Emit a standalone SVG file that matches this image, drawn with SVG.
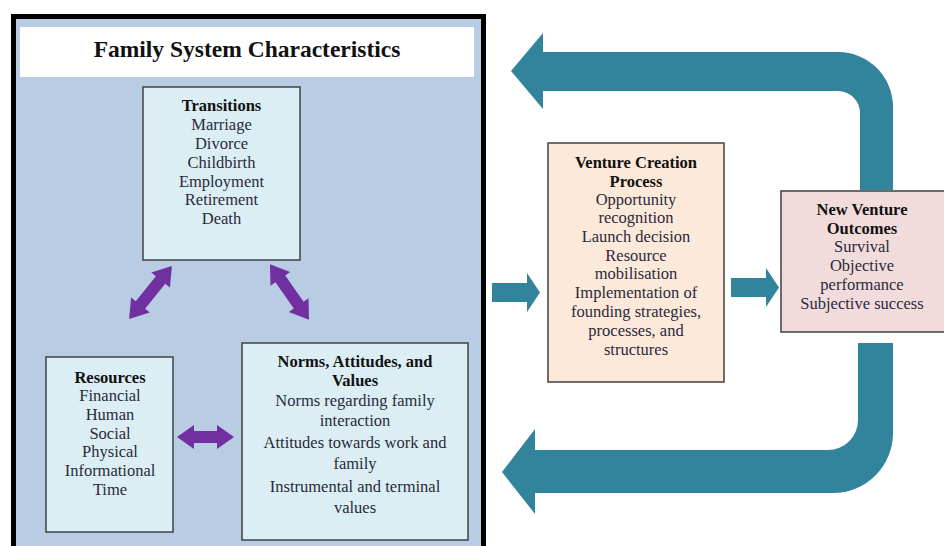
<svg xmlns="http://www.w3.org/2000/svg" width="944" height="546" viewBox="0 0 944 546">
<style>
text{font-family:"Liberation Serif","Times New Roman",serif;font-size:16.5px;fill:#2a2a3c;text-anchor:middle}
.b{font-weight:bold;fill:#111}
.box{stroke:#404040;stroke-width:1.5}
.teal{fill:#31849b}
.purple{fill:#7030a0}
</style>
<rect x="0" y="0" width="944" height="546" fill="#fff"/>
<g id="panel">
<rect x="13.5" y="16.5" width="470" height="540" fill="#b8cce4" stroke="#000" stroke-width="5"/>
<rect x="20" y="27" width="454" height="50" fill="#fff"/>
<text x="247" y="57" class="b" style="font-size:23.5px">Family System Characteristics</text>
</g>
<g id="transitions">
<rect class="box" x="143" y="87" width="157" height="173" fill="#daeef3"/>
<text x="221.5" y="111" class="b">Transitions</text>
<text x="221.5" y="130">Marriage</text>
<text x="221.5" y="149">Divorce</text>
<text x="221.5" y="168">Childbirth</text>
<text x="221.5" y="187">Employment</text>
<text x="221.5" y="205">Retirement</text>
<text x="221.5" y="224">Death</text>
</g>
<g id="resources">
<rect class="box" x="46" y="357" width="127" height="175" fill="#daeef3"/>
<text x="110" y="383" class="b">Resources</text>
<text x="110" y="401">Financial</text>
<text x="110" y="420">Human</text>
<text x="110" y="439">Social</text>
<text x="110" y="457">Physical</text>
<text x="110" y="476">Informational</text>
<text x="110" y="495">Time</text>
</g>
<g id="norms">
<rect class="box" x="242" y="343" width="226" height="197" fill="#daeef3"/>
<text x="355" y="367" class="b">Norms, Attitudes, and</text>
<text x="355" y="386" class="b">Values</text>
<text x="355" y="406">Norms regarding family</text>
<text x="355" y="426">interaction</text>
<text x="355" y="448">Attitudes towards work and</text>
<text x="355" y="469">family</text>
<text x="355" y="492">Instrumental and terminal</text>
<text x="355" y="513">values</text>
</g>
<g id="venture-creation">
<rect class="box" x="548" y="143" width="176" height="239" fill="#fde9d9"/>
<text x="636" y="168" class="b">Venture Creation</text>
<text x="636" y="187" class="b">Process</text>
<text x="636" y="205">Opportunity</text>
<text x="636" y="223">recognition</text>
<text x="636" y="242">Launch decision</text>
<text x="636" y="261">Resource</text>
<text x="636" y="279">mobilisation</text>
<text x="636" y="298">Implementation of</text>
<text x="636" y="317">founding strategies,</text>
<text x="636" y="336">processes, and</text>
<text x="636" y="355">structures</text>
</g>
<g id="new-venture-outcomes">
<rect class="box" x="781" y="191" width="170" height="141" fill="#f2dcdb"/>
<text x="862" y="215" class="b">New Venture</text>
<text x="862" y="234" class="b">Outcomes</text>
<text x="862" y="252">Survival</text>
<text x="862" y="271">Objective</text>
<text x="862" y="290">performance</text>
<text x="862" y="309">Subjective success</text>
</g>
<g id="connectors">
<path class="purple" d="M-34,0 L-16,-12 L-16,-6 L16,-6 L16,-12 L34,0 L16,12 L16,6 L-16,6 L-16,12 Z" transform="translate(150.5,292.5) rotate(-51)"/>
<path class="purple" d="M-34,0 L-16,-12 L-16,-6 L16,-6 L16,-12 L34,0 L16,12 L16,6 L-16,6 L-16,12 Z" transform="translate(289.5,292) rotate(55)"/>
<path class="purple" d="M-28.5,0 L-11.5,-12 L-11.5,-6 L11.5,-6 L11.5,-12 L28.5,0 L11.5,12 L11.5,6 L-11.5,6 L-11.5,12 Z" transform="translate(205.5,437)"/>
<path class="teal" d="M492,283 L527,283 L527,273 L540,292.5 L527,312 L527,302 L492,302 Z"/>
<path class="teal" d="M731,278 L766,278 L766,268 L779,287.5 L766,307 L766,297 L731,297 Z"/>
<path class="teal" d="M511,71 L543,33 L543,52 L838,52 A55,55 0 0 1 893,107 L893,190 L860,190 L860,113 A22,22 0 0 0 838,91 L543,91 L543,109 Z"/>
<path class="teal" d="M858,343 L893,343 L893,433 A60,60 0 0 1 833,493 L535,493 L535,514 L502,472 L535,429 L535,450 L828,450 A30,30 0 0 0 858,420 Z"/>
</g>
</svg>
